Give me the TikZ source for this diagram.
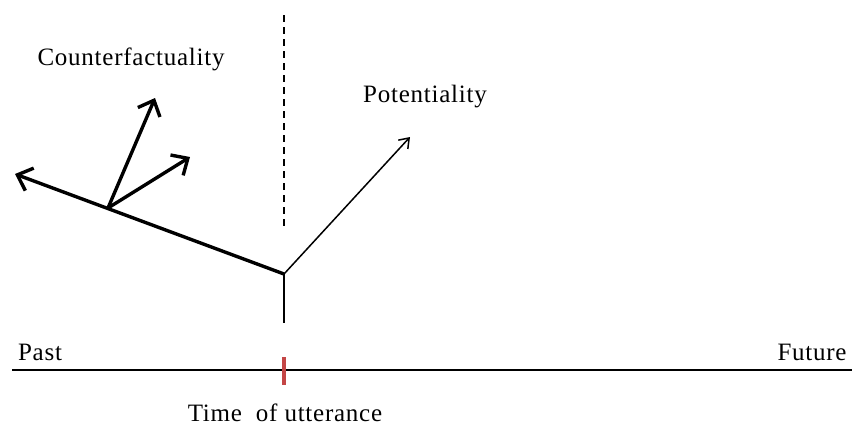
\documentclass[tikz,border=0pt]{standalone}
\usepackage{fontspec}
\setmainfont{Liberation Serif}[LetterSpace=3]
\usetikzlibrary{arrows.meta}
\begin{document}
\begin{tikzpicture}[x=1pt,y=-1pt,
  lbl/.style={font=\fontsize{25}{29}\selectfont, inner sep=0pt, anchor=center},
  thickarrow/.style={line width=3.4pt, -{Straight Barb[length=13pt,width=24pt,line width=3.4pt]}},
  thinarrow/.style={line width=1.5pt, -{Straight Barb[length=9pt,width=13pt,line width=1.5pt]}}]
\useasboundingbox (0,0) rectangle (853,426);
% points
\coordinate (J) at (284,274);
\coordinate (S) at (284,323);
\coordinate (B) at (108,208);
\coordinate (L) at (15,174);
\coordinate (U) at (155,98);
\coordinate (R) at (190,157);
\coordinate (P) at (410,137);
\coordinate (DT) at (284,15);
\coordinate (DB) at (284,228);
\coordinate (TL) at (12,370);
\coordinate (TR) at (852,370);
\coordinate (KT) at (284,357);
\coordinate (KB) at (284,385);
% timeline
\draw[line width=1.8pt] (TL) -- (TR);
\draw[line width=4.5pt, color={rgb,255:red,196;green,70;blue,70}] (KT) -- (KB);
% stub and dashed
\draw[line width=1.6pt] (J) -- (S);
\draw[line width=1.6pt, dash pattern=on 7pt off 5pt] (DT) -- (DB);
% branches
\draw[thickarrow] (J) -- (L);
\draw[thickarrow] (B) -- (U);
\draw[thickarrow] (B) -- (R);
\draw[thinarrow] (J) -- (P);
% labels
\node[lbl] (cf) at (131,59) {Counterfactuality};
\node[lbl] (pot) at (425,97) {Potentiality};
\node[lbl] (past) at (40,352) {Past};
\node[lbl] (fut) at (812,352) {Future};
\node[lbl] (tou) at (285,413) {Time\ \ of utterance};
\end{tikzpicture}
\end{document}
